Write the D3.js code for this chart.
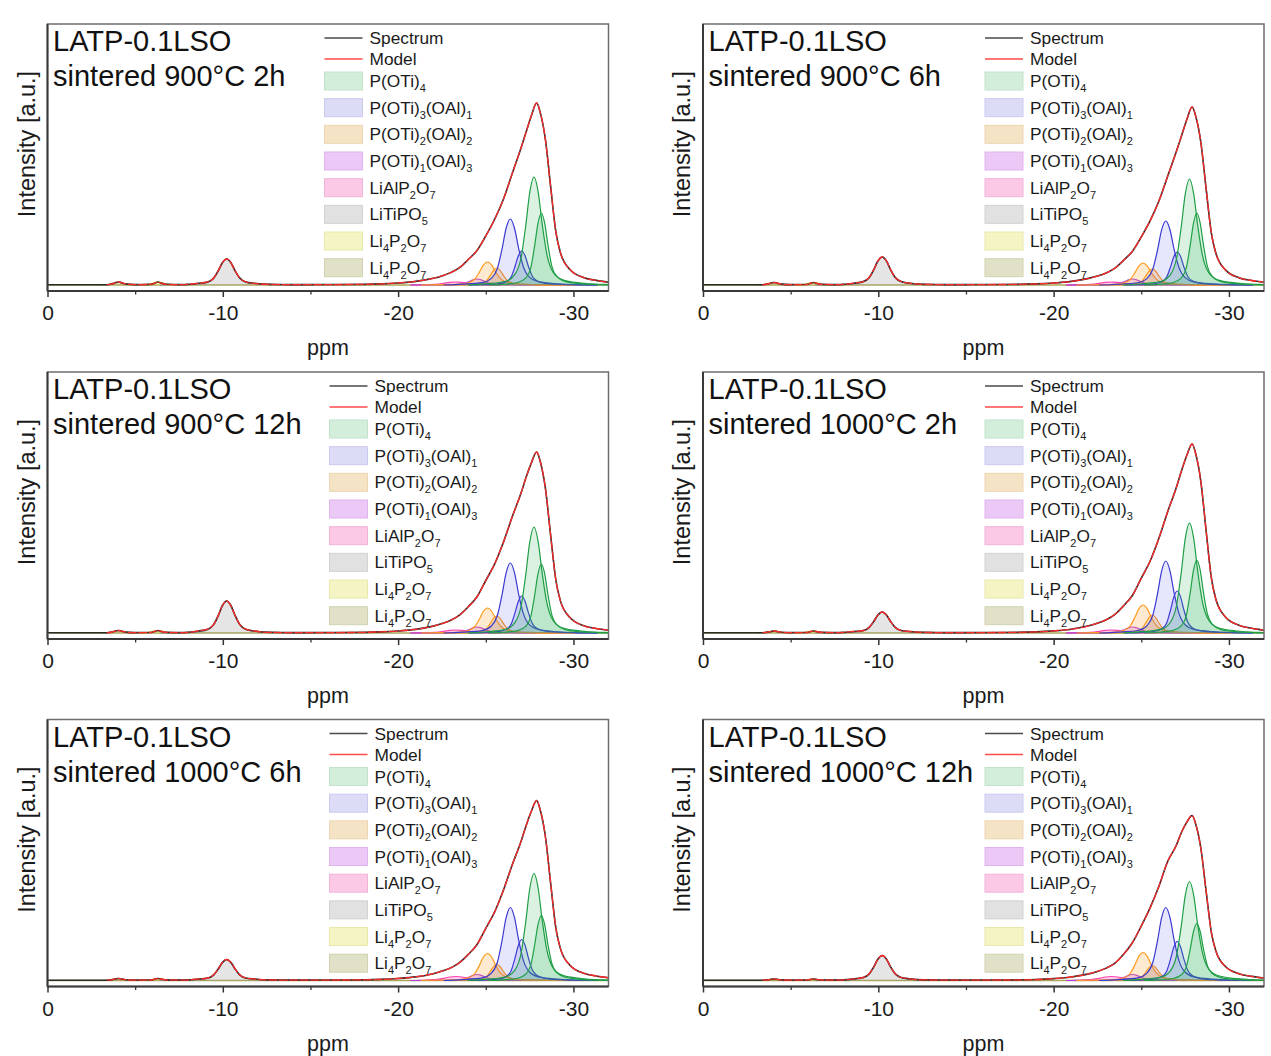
<!DOCTYPE html>
<html><head><meta charset="utf-8">
<script src="https://cdn.jsdelivr.net/npm/d3@7"></script>
<style>body{margin:0;background:#fff}svg{display:block}</style>
</head><body><svg id="chart" width="1271" height="1056"></svg>
<script>
// ---------------- data ----------------
const sampleName = "LATP-0.1LSO";
const conditions = ["sintered 900°C 2h","sintered 900°C 6h","sintered 900°C 12h",
                    "sintered 1000°C 2h","sintered 1000°C 6h","sintered 1000°C 12h"];
const xTickValues = [0,-10,-20,-30];
const xMinorTicks = [-5,-15,-25];
const xLabel = "ppm";
const yLabel = "Intensity [a.u.]";
const lineLabels = ["Spectrum","Model"];
const componentLabels = ["P(OTi)_4","P(OTi)_3(OAl)_1","P(OTi)_2(OAl)_2","P(OTi)_1(OAl)_3",
                         "LiAlP_2O_7","LiTiPO_5","Li_4P_2O_7","Li_4P_2O_7"];
// individual fitted peaks: component index, centre (ppm), line-shape
const peakComponent = [0,0,1,1,2,2,3,4,5,6,7];
const peakCenters   = [-27.75,-28.17,-26.4,-27.05,-25.1,-25.63,-24.5,-23.3,-10.22,-6.3,-4.05];
const peakShapeOf   = ["medium","narrow","medium","narrow","medium","narrow","medium","broad","medium","small","small"];
// peak heights per panel (same order as peakCenters)
const peakHeights = [
  [108,72,66,34,23,17,6,3,26,3,3],
  [106,72,64,33,22,16,6,3,28,2.5,2.5],
  [106,69,70,37,25,17,6,3,32,2.5,2.5],
  [110,73,72,42,28,18,6,3,21,2,2],
  [107,65,73,41,27,16,6,4,21,2,2],
  [99,57,73,39,28,15,6,4,25,1.5,1.5]
];
// normalised line shapes: [offset towards high-field (ppm), fraction of height]
const shapeMedium = [[-3.8,0],[-2.7,0.012],[-1.6,0.035],[-1.08,0.1],[-0.74,0.25],[-0.47,0.55],[-0.24,0.86],[0,1],[0.24,0.86],[0.47,0.56],[0.74,0.28],[1.08,0.12],[1.6,0.05],[2.7,0.018],[4.0,0.005],[5.0,0]];
const shapeNarrow = [[-3.0,0],[-2.2,0.01],[-1.35,0.035],[-0.88,0.1],[-0.6,0.24],[-0.38,0.55],[-0.19,0.86],[0,1],[0.19,0.86],[0.38,0.55],[0.6,0.26],[0.88,0.12],[1.35,0.05],[2.2,0.018],[3.2,0.006],[4.3,0]];
const shapeBroad  = [[-2.6,0],[-1.8,0.05],[-1.2,0.2],[-0.7,0.55],[-0.35,0.88],[0,1],[0.35,0.88],[0.7,0.55],[1.2,0.2],[1.8,0.05],[2.6,0]];
const shapeSmall  = [[-1.0,0],[-0.6,0.15],[-0.35,0.5],[-0.15,0.88],[0,1],[0.15,0.88],[0.35,0.5],[0.6,0.15],[1.0,0]];
// model / spectrum, low-field part (0 … -14 ppm)
const modelLow = [
  [[-3.4,0.3],[-3.7,1.2],[-3.9,2.4],[-4.05,3],[-4.2,2.4],[-4.45,1.1],[-5.0,0.4],[-5.9,0.6],[-6.15,2.1],[-6.3,3],[-6.45,2.1],[-6.8,0.7],[-7.6,0.4],[-8.0,0.6],[-8.6,1.7],[-9.14,3.1],[-9.48,7],[-9.75,14.6],[-9.98,22.4],[-10.22,26],[-10.46,22.4],[-10.69,14.6],[-10.96,7],[-11.3,3.1],[-11.8,1.7],[-12.6,0.6],[-14,0.4]],
  [[-3.4,0.3],[-3.7,1.0],[-3.9,2],[-4.05,2.5],[-4.2,2],[-4.45,0.9],[-5.0,0.4],[-5.9,0.5],[-6.15,1.8],[-6.3,2.5],[-6.45,1.8],[-6.8,0.6],[-7.6,0.4],[-8.0,0.6],[-8.6,1.8],[-9.14,3.4],[-9.48,7.6],[-9.75,15.7],[-9.98,24.1],[-10.22,28],[-10.46,24.1],[-10.69,15.7],[-10.96,7.6],[-11.3,3.4],[-11.8,1.8],[-12.6,0.6],[-14,0.4]],
  [[-3.4,0.3],[-3.7,1.0],[-3.9,2],[-4.05,2.5],[-4.2,2],[-4.45,0.9],[-5.0,0.4],[-5.9,0.5],[-6.15,1.8],[-6.3,2.5],[-6.45,1.8],[-6.8,0.6],[-7.6,0.4],[-8.0,0.6],[-8.6,2.0],[-9.14,3.8],[-9.48,8.6],[-9.75,17.9],[-9.98,27.5],[-10.22,32],[-10.46,27.5],[-10.69,17.9],[-10.96,8.6],[-11.3,3.8],[-11.8,2.0],[-12.6,0.6],[-14,0.4]],
  [[-3.4,0.3],[-3.7,0.9],[-3.9,1.6],[-4.05,2],[-4.2,1.6],[-4.45,0.8],[-5.0,0.4],[-5.9,0.5],[-6.15,1.5],[-6.3,2],[-6.45,1.5],[-6.8,0.6],[-7.6,0.4],[-8.0,0.6],[-8.6,1.5],[-9.14,2.5],[-9.48,5.7],[-9.75,11.8],[-9.98,18.1],[-10.22,21],[-10.46,18.1],[-10.69,11.8],[-10.96,5.7],[-11.3,2.5],[-11.8,1.5],[-12.6,0.6],[-14,0.4]],
  [[-3.4,0.3],[-3.7,0.9],[-3.9,1.6],[-4.05,2],[-4.2,1.6],[-4.45,0.8],[-5.0,0.4],[-5.9,0.5],[-6.15,1.5],[-6.3,2],[-6.45,1.5],[-6.8,0.6],[-7.6,0.4],[-8.0,0.6],[-8.6,1.5],[-9.14,2.5],[-9.48,5.7],[-9.75,11.8],[-9.98,18.1],[-10.22,21],[-10.46,18.1],[-10.69,11.8],[-10.96,5.7],[-11.3,2.5],[-11.8,1.5],[-12.6,0.6],[-14,0.4]],
  [[-3.4,0.3],[-3.7,0.7],[-3.9,1.2],[-4.05,1.5],[-4.2,1.2],[-4.45,0.6],[-5.0,0.4],[-5.9,0.4],[-6.15,1.1],[-6.3,1.5],[-6.45,1.1],[-6.8,0.5],[-7.6,0.4],[-8.0,0.6],[-8.6,1.65],[-9.14,3],[-9.48,6.8],[-9.75,14],[-9.98,21.5],[-10.22,25],[-10.46,21.5],[-10.69,14],[-10.96,6.8],[-11.3,3],[-11.8,1.65],[-12.6,0.6],[-14,0.4]]
];
// model / spectrum, high-field part (-17 … -32 ppm)
const modelHigh = [
  [[-17,0.5],[-19,1.1],[-20,2.0],[-21,3.6],[-22,6.7],[-22.5,9.1],[-23,12.4],[-23.5,17.3],[-24,25.5],[-24.5,34.6],[-25,49.1],[-25.5,65.5],[-26,85.5],[-26.5,111],[-27,136.5],[-27.3,152.9],[-27.6,169.3],[-27.9,182],[-28.1,172.9],[-28.4,145.6],[-28.7,98.3],[-29,52.8],[-29.25,32.8],[-29.8,15.5],[-30.6,7.3],[-31.3,4.6],[-32,2.7]],
  [[-17,0.5],[-19,1.1],[-20,2.0],[-21,3.6],[-22,6.6],[-22.5,8.9],[-23,12.1],[-23.5,16.9],[-24,24.9],[-24.5,33.8],[-25,48.1],[-25.5,64.1],[-26,83.7],[-26.5,108.6],[-27,133.5],[-27.3,149.5],[-27.6,165.5],[-27.9,178],[-28.1,169.1],[-28.4,142.4],[-28.7,96.1],[-29,51.6],[-29.25,32],[-29.8,15.1],[-30.6,7.1],[-31.3,4.5],[-32,2.7]],
  [[-17,0.5],[-19,1.1],[-20,2.0],[-21,3.6],[-22,6.9],[-22.5,9.4],[-23,12.7],[-23.5,17.9],[-24,26.2],[-24.5,36.2],[-25,52.5],[-25.5,68.8],[-26,90.5],[-26.5,115.8],[-27,139.4],[-27.3,155.7],[-27.6,170.1],[-27.9,181],[-28.1,172],[-28.4,144.8],[-28.7,97.7],[-29,52.5],[-29.25,32.6],[-29.8,15.4],[-30.6,7.2],[-31.3,4.5],[-32,2.7]],
  [[-17,0.5],[-19,1.1],[-20,2.1],[-21,3.8],[-22,7.2],[-22.5,9.8],[-23,13.2],[-23.5,18.7],[-24,27.4],[-24.5,37.8],[-25,54.8],[-25.5,71.8],[-26,94.5],[-26.5,121],[-27,145.5],[-27.3,162.5],[-27.6,177.7],[-27.9,189],[-28.1,179.6],[-28.4,151.2],[-28.7,102],[-29,54.8],[-29.25,34],[-29.8,16.1],[-30.6,7.6],[-31.3,4.7],[-32,2.8]],
  [[-17,0.5],[-19,1.1],[-20,2],[-21,3.6],[-22,6.8],[-22.5,9.4],[-23,12.6],[-23.5,17.8],[-24,26.1],[-24.5,36],[-25,52.2],[-25.5,68.4],[-26,90],[-26.5,115.2],[-27,138.6],[-27.3,154.8],[-27.6,169.2],[-27.9,180],[-28.1,171],[-28.4,144],[-28.7,97.2],[-29,52.2],[-29.25,32.4],[-29.8,15.3],[-30.6,7.2],[-31.3,4.5],[-32,2.7]],
  [[-17,0.5],[-19,1.0],[-20,1.9],[-21,3.5],[-22,6.6],[-22.5,9.1],[-23,12.4],[-23.5,17.3],[-24,26.4],[-24.5,38],[-25,54.5],[-25.5,72.6],[-26,94],[-26.5,118.8],[-27,135.3],[-27.3,148.5],[-27.6,158.4],[-27.9,165],[-28.1,156.8],[-28.4,132],[-28.7,89.1],[-29,47.9],[-29.25,29.7],[-29.8,14],[-30.6,6.6],[-31.3,4.1],[-32,2.5]]
];
const xDomain = [0,-32];
const yDomain = [-6,261];

// ---------------- styles ----------------
const FONT = '"Liberation Sans", Arial, Helvetica, sans-serif';
const compStroke = ["#1f9e45","#3a3ad0","#ff9a1e","#b43ce0","#ff3fb0","#8a8a8a","#e6e020","#a3a255"];
const compFill   = ["rgba(40,175,85,0.17)","rgba(80,80,235,0.14)","rgba(245,160,40,0.22)","rgba(200,70,240,0.22)",
                    "rgba(255,70,180,0.25)","rgba(150,150,150,0.25)","rgba(240,240,80,0.3)","rgba(170,170,90,0.3)"];
const swatchFill   = ["#d4eedc","#dddcf6","#f5e3c6","#ebc8f5","#fbc9e6","#e1e1e1","#f4f4c4","#e1e1c8"];
const swatchStroke = ["#c2e2cb","#cbcaee","#ecd5b0","#dfb3ee","#f2b3d8","#d2d2d2","#e8e8aa","#d2d2b2"];
const shapes = {medium: shapeMedium, narrow: shapeNarrow, broad: shapeBroad, small: shapeSmall};

const colLeft = [47.5, 703];
const rowTop = [24, 372, 719.5];
const W = 561, H = 267;
const legendOffset = [277, 282, 282, 282, 282, 282];

const svg = d3.select("#chart");
svg.append("rect").attr("width",1271).attr("height",1056).attr("fill","#fff");

function addLabel(sel, label, subSize){
  const parts = label.split(/_(\d)/);
  let shifted = false;
  parts.forEach((p,k)=>{
    if(p==="") return;
    const t = sel.append("tspan").text(p);
    if(k%2===1){ t.attr("font-size",subSize).attr("dy", shifted?0:5); shifted = true; }
    else { t.attr("dy", shifted?-5:0); shifted = false; }
  });
}

conditions.forEach((cond,i)=>{
  const col = i%2, row = Math.floor(i/2);
  const left = colLeft[col], top = rowTop[row];
  const x = d3.scaleLinear().domain(xDomain).range([left, left+W]);
  const y = d3.scaleLinear().domain(yDomain).range([top+H, top]);
  const g = svg.append("g");
  const clipId = "clip"+i;
  g.append("clipPath").attr("id",clipId).append("rect")
    .attr("x",left).attr("y",top).attr("width",W).attr("height",H);
  const data = g.append("g").attr("clip-path",`url(#${clipId})`);

  const line = d3.line().x(d=>x(d[0])).y(d=>y(d[1])).curve(d3.curveMonotoneX);
  const area = d3.area().x(d=>x(d[0])).y0(y(0)).y1(d=>y(d[1])).curve(d3.curveMonotoneX);

  // baseline
  data.append("path").attr("d", line([[xDomain[0],0],[xDomain[1],0]]))
    .attr("fill","none").attr("stroke","#a9a75a").attr("stroke-width",1.3);

  // component peaks (drawn back to front)
  for(let p = peakCenters.length-1; p>=0; p--){
    const c = peakComponent[p], h = peakHeights[i][p], ctr = peakCenters[p];
    const pts = shapes[peakShapeOf[p]].map(([d,f])=>[ctr-d, f*h]);
    data.append("path").attr("d", area(pts)).attr("fill", compFill[c]).attr("stroke","none");
    data.append("path").attr("d", line(pts)).attr("fill","none")
      .attr("stroke", compStroke[c]).attr("stroke-width",1.2);
  }

  // spectrum and model
  const modelPts = modelLow[i].concat(modelHigh[i]);
  const specPts = [[0,0.3]].concat(modelPts);
  data.append("path").attr("d", line(specPts)).attr("fill","none")
    .attr("stroke","#2b2b2b").attr("stroke-width",1.6);
  data.append("path").attr("d", line(modelPts)).attr("fill","none")
    .attr("stroke","#ff2a2a").attr("stroke-width",1.3).attr("stroke-dasharray","9,1.5");

  // frame
  g.append("rect").attr("x",left).attr("y",top).attr("width",W).attr("height",H)
    .attr("fill","none").attr("stroke","#6e6e6e").attr("stroke-width",1.5);
  g.append("line").attr("x1",left).attr("x2",left+W).attr("y1",top+H).attr("y2",top+H)
    .attr("stroke","#3a3a3a").attr("stroke-width",2);
  g.append("line").attr("x1",left).attr("x2",left).attr("y1",top).attr("y2",top+H)
    .attr("stroke","#3a3a3a").attr("stroke-width",2);

  // x axis
  const ax = g.append("g").attr("transform",`translate(0,${top+H})`)
    .call(d3.axisBottom(x).tickValues(xTickValues).tickSize(6).tickFormat(d=>String(d)));
  ax.select(".domain").remove();
  ax.attr("font-family",FONT).attr("font-size",21);
  ax.selectAll(".tick line").attr("stroke","#333").attr("stroke-width",1.5);
  ax.selectAll(".tick text").attr("y",14.5).attr("fill","#1a1a1a");
  const axm = g.append("g").attr("transform",`translate(0,${top+H})`)
    .call(d3.axisBottom(x).tickValues(xMinorTicks).tickSize(3.5).tickFormat(""));
  axm.select(".domain").remove();
  axm.selectAll(".tick line").attr("stroke","#333").attr("stroke-width",1.3);

  // axis titles
  g.append("text").attr("x", left+W/2).attr("y", top+H+64).attr("text-anchor","middle")
    .attr("font-family",FONT).attr("font-size",21.5).attr("fill","#1a1a1a").text(xLabel);
  g.append("text").attr("transform",`translate(${left-21},${top+120}) rotate(-90)`)
    .attr("text-anchor","middle").attr("dominant-baseline","central")
    .attr("font-family",FONT).attr("font-size",23.5).attr("fill","#1a1a1a").text(yLabel);

  // panel title
  g.append("text").attr("x",left+5.5).attr("y",top+27).attr("font-family",FONT)
    .attr("font-size",29).attr("fill","#111").text(sampleName);
  g.append("text").attr("x",left+5.5).attr("y",top+62).attr("font-family",FONT)
    .attr("font-size",29).attr("fill","#111").text(cond);

  // legend
  const lx = left + legendOffset[i];
  const lg = g.append("g").attr("font-family",FONT).attr("font-size",17.3).attr("fill","#1a1a1a");
  const lineCols = ["#4a4a4a","#ff4a4a"];
  lineLabels.forEach((lab,k)=>{
    const cy = top + 14 + k*21;
    lg.append("line").attr("x1",lx).attr("x2",lx+38).attr("y1",cy).attr("y2",cy)
      .attr("stroke",lineCols[k]).attr("stroke-width",1.5);
    lg.append("text").attr("x",lx+45).attr("y",cy+6).text(lab);
  });
  componentLabels.forEach((lab,k)=>{
    const cy = top + 57 + k*26.67;
    lg.append("rect").attr("x",lx).attr("y",cy-9).attr("width",38).attr("height",18)
      .attr("fill",swatchFill[k]).attr("stroke",swatchStroke[k]).attr("stroke-width",1);
    const t = lg.append("text").attr("x",lx+45).attr("y",cy+6);
    addLabel(t, lab, 11);
  });
});
</script></body></html>
